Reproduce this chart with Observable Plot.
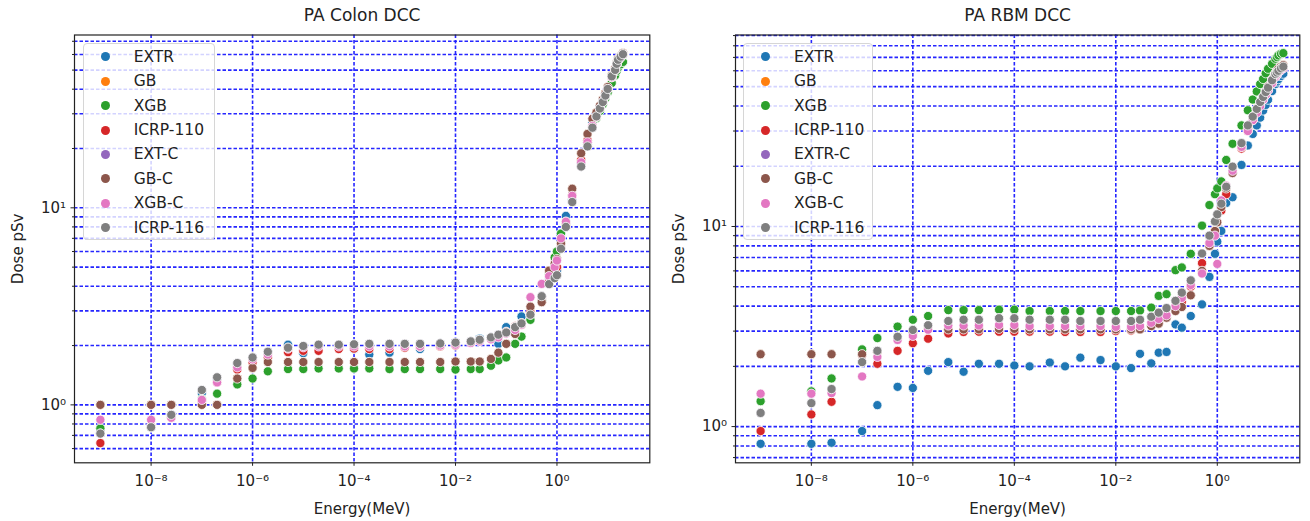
<!DOCTYPE html>
<html>
<head>
<meta charset="utf-8">
<script src="https://cdn.jsdelivr.net/npm/d3@7"></script>
<script src="https://cdn.jsdelivr.net/npm/@observablehq/plot@0.6"></script>
<style>
  body { margin: 0; background: #fff; font-family: "DejaVu Sans", sans-serif; }
  #wrap { position: relative; width: 1310px; height: 521px; overflow: hidden; background: #fff; }
  .panel { position: absolute; top: 0; }
  .legend { position: absolute; box-sizing: border-box; background: rgba(255,255,255,0.8);
            border: 1px solid #d6d6d6; border-radius: 4px; font-size: 15.5px; color: #222; padding-top: 1px; }
  .legend .row { height: 24.4px; display: flex; align-items: center; white-space: nowrap; }
  .legend .mk { width: 9px; height: 9px; border-radius: 50%; margin-left: 17px; margin-right: 24px; flex: none; }
</style>
</head>
<body>
<div id="wrap"></div>
<script>
// ---------------- data ----------------
const energies = [1e-9, 1e-8, 2.5e-8, 1e-7, 2e-7, 5e-7, 1e-6, 2e-6, 5e-6, 1e-5, 2e-5, 5e-5, 1e-4, 2e-4, 5e-4, 1e-3, 2e-3, 5e-3, 1e-2, 2e-2, 3e-2, 5e-2, 7e-2, 0.1, 0.15, 0.2, 0.3, 0.5, 0.7, 0.9, 1, 1.2, 1.5, 2, 3, 4, 5, 6, 7, 8, 9, 10, 12, 14, 15, 16, 18, 20];

const colonNames = ["EXTR", "GB", "XGB", "ICRP-110", "EXT-C", "GB-C", "XGB-C", "ICRP-116"];
const rbmNames   = ["EXTR", "GB", "XGB", "ICRP-110", "EXTR-C", "GB-C", "XGB-C", "ICRP-116"];
const palette = ["#1f77b4", "#ff7f0e", "#2ca02c", "#d62728", "#9467bd", "#8c564b", "#e377c2", "#7f7f7f"];

// PA Colon DCC (pSv)
const colonEXTR = [0.72, 0.77, 0.88, 1.15, 1.35, 1.60, 1.72, 1.85, 2.02, 1.83, 1.95, 1.97, 1.92, 1.80, 1.84, 2.00, 1.92, 2.04, 2.05, 2.08, 2.17, 2.20, 2.04, 2.48, 2.45, 2.81, 2.90, 3.40, 4.30, 4.40, 4.80, 6.50, 9.10, 11.0, 17.0, 21.5, 27.0, 29.5, 32.5, 35.0, 37.5, 40.5, 46.0, 50.5, 53.5, 56.0, 58.5, 60.5];
const colonGB = [1.00, 1.00, 1.00, 1.00, 1.00, 1.36, 1.54, 1.65, 1.65, 1.65, 1.65, 1.65, 1.65, 1.65, 1.65, 1.65, 1.65, 1.65, 1.66, 1.66, 1.66, 1.71, 1.84, 2.04, 2.29, 2.55, 3.15, 3.32, 4.80, 5.20, 5.50, 6.60, 8.30, 12.5, 18.9, 23.7, 28.3, 30.5, 33.0, 35.5, 38.0, 41.0, 47.0, 51.0, 54.5, 57.0, 59.0, 61.0];
const colonXGB = [0.76, 0.77, 0.87, 1.07, 1.14, 1.27, 1.36, 1.48, 1.52, 1.52, 1.53, 1.53, 1.53, 1.53, 1.52, 1.52, 1.52, 1.52, 1.51, 1.52, 1.52, 1.58, 1.68, 1.74, 2.04, 2.22, 2.70, 3.40, 4.60, 5.60, 6.00, 7.40, 8.50, 11.5, 17.4, 21.0, 26.0, 28.5, 31.0, 33.5, 36.0, 38.5, 43.0, 47.0, 49.5, 51.5, 53.5, 55.0];
const colonICRP110 = [0.64, 0.78, 0.86, 1.05, 1.30, 1.51, 1.64, 1.74, 1.85, 1.88, 1.88, 1.92, 1.93, 1.92, 1.92, 1.95, 1.97, 1.98, 2.00, 2.08, 2.12, 2.18, 2.25, 2.35, 2.50, 2.60, 2.95, 3.50, 4.20, 4.70, 5.00, 6.40, 8.20, 11.5, 17.5, 22.0, 26.0, 29.0, 32.0, 34.5, 37.0, 40.0, 46.0, 50.0, 53.5, 56.0, 58.0, 60.0];
const colonEXTC = [0.715, 0.77, 0.89, 1.19, 1.38, 1.63, 1.74, 1.86, 1.95, 1.99, 2.02, 2.02, 2.03, 2.04, 2.04, 2.04, 2.04, 2.05, 2.07, 2.10, 2.14, 2.20, 2.27, 2.33, 2.48, 2.59, 2.87, 3.56, 4.10, 4.40, 4.55, 6.20, 8.00, 10.7, 16.2, 20.5, 25.5, 29.1, 31.9, 34.4, 37.1, 40.1, 46.5, 50.1, 53.8, 56.4, 58.5, 60.2];
const colonGBC = [1.00, 1.00, 1.00, 1.00, 1.00, 1.36, 1.54, 1.65, 1.65, 1.65, 1.65, 1.65, 1.65, 1.65, 1.65, 1.65, 1.65, 1.65, 1.66, 1.66, 1.66, 1.71, 1.84, 2.04, 2.29, 2.55, 3.15, 3.32, 4.80, 5.20, 5.50, 6.60, 8.30, 12.5, 18.9, 23.7, 28.3, 30.5, 33.0, 35.5, 38.0, 41.0, 47.0, 51.0, 54.5, 57.0, 59.0, 61.0];
const colonXGBC = [0.84, 0.84, 0.86, 1.06, 1.30, 1.55, 1.70, 1.80, 1.93, 1.96, 1.98, 1.98, 1.98, 1.98, 1.98, 1.98, 1.98, 2.00, 2.02, 2.06, 2.10, 2.15, 2.20, 2.30, 2.40, 2.55, 3.52, 4.11, 4.50, 5.00, 5.40, 7.00, 8.50, 11.5, 17.0, 21.5, 26.0, 29.0, 32.0, 34.5, 37.0, 40.0, 46.0, 50.0, 53.5, 56.0, 58.0, 60.0];
const colonICRP116 = [0.715, 0.77, 0.89, 1.19, 1.38, 1.63, 1.74, 1.86, 1.95, 1.99, 2.02, 2.02, 2.03, 2.04, 2.04, 2.04, 2.04, 2.05, 2.07, 2.10, 2.14, 2.20, 2.27, 2.33, 2.48, 2.59, 2.87, 3.56, 4.10, 4.40, 4.55, 6.20, 8.00, 10.7, 16.2, 20.5, 25.5, 29.1, 31.9, 34.4, 37.1, 40.1, 46.5, 50.1, 53.8, 56.4, 58.5, 60.2];

// PA RBM DCC (pSv)
const rbmEXTR = [0.82, 0.82, 0.83, 0.95, 1.28, 1.58, 1.56, 1.90, 2.10, 1.88, 2.06, 2.06, 2.02, 2.00, 2.09, 2.00, 2.21, 2.15, 2.00, 1.96, 2.31, 2.07, 2.34, 2.36, 3.24, 3.12, 3.57, 4.08, 5.60, 7.30, 8.40, 9.50, 13.1, 14.0, 20.3, 25.4, 29.0, 32.0, 35.0, 38.0, 40.5, 43.0, 47.5, 51.5, 53.0, 54.5, 56.5, 58.0];
const rbmGB = [2.30, 2.30, 2.30, 2.30, 2.35, 2.75, 2.95, 3.08, 3.06, 3.06, 3.06, 3.08, 3.08, 3.06, 3.06, 3.06, 3.06, 3.06, 3.06, 3.06, 3.06, 3.18, 3.27, 3.50, 3.78, 3.96, 4.53, 6.00, 8.00, 9.50, 10.5, 12.5, 15.5, 18.5, 25.0, 31.0, 35.0, 38.5, 41.5, 44.5, 47.0, 50.0, 54.5, 58.5, 60.0, 61.5, 63.0, 64.0];
const rbmXGB = [1.34, 1.50, 1.74, 2.43, 2.77, 3.16, 3.42, 3.57, 3.82, 3.82, 3.82, 3.84, 3.84, 3.78, 3.78, 3.78, 3.78, 3.78, 3.78, 3.78, 3.80, 3.93, 4.50, 4.59, 6.05, 6.24, 7.30, 10.1, 12.8, 14.5, 15.5, 16.8, 21.5, 25.9, 32.0, 38.1, 43.1, 47.3, 51.5, 54.6, 58.3, 61.4, 65.0, 68.9, 70.2, 71.6, 73.0, 73.5];
const rbmICRP110 = [0.95, 1.15, 1.33, 2.28, 2.06, 2.39, 2.61, 2.75, 2.92, 2.97, 2.98, 2.98, 2.98, 2.98, 2.98, 2.97, 2.97, 2.97, 3.00, 3.02, 3.10, 3.20, 3.30, 3.50, 3.85, 4.20, 5.00, 6.56, 8.30, 9.50, 10.5, 12.0, 14.5, 18.5, 24.5, 30.0, 34.0, 37.5, 40.5, 43.0, 45.5, 48.0, 52.0, 56.0, 57.5, 59.0, 61.0, 62.0];
const rbmEXTRC = [1.17, 1.31, 1.54, 2.10, 2.39, 2.81, 3.04, 3.21, 3.37, 3.42, 3.42, 3.48, 3.48, 3.42, 3.42, 3.42, 3.37, 3.37, 3.37, 3.37, 3.42, 3.54, 3.71, 3.91, 4.25, 4.67, 5.38, 7.33, 9.00, 10.6, 11.5, 13.0, 15.8, 19.9, 26.1, 32.0, 35.4, 38.7, 41.9, 44.4, 47.0, 49.4, 53.8, 57.8, 58.8, 60.0, 61.7, 62.9];
const rbmGBC = [2.30, 2.30, 2.30, 2.30, 2.35, 2.75, 2.95, 3.08, 3.06, 3.06, 3.06, 3.08, 3.08, 3.06, 3.06, 3.06, 3.06, 3.06, 3.06, 3.06, 3.06, 3.18, 3.27, 3.50, 3.78, 3.96, 4.53, 6.00, 8.00, 9.50, 10.5, 12.5, 15.5, 18.5, 25.0, 31.0, 35.0, 38.5, 41.5, 44.5, 47.0, 50.0, 54.5, 58.5, 60.0, 61.5, 63.0, 64.0];
const rbmXGBC = [1.46, 1.46, 1.47, 1.78, 2.23, 2.71, 2.84, 3.05, 3.20, 3.20, 3.20, 3.22, 3.22, 3.18, 3.18, 3.18, 3.18, 3.18, 3.15, 3.15, 3.18, 3.30, 3.45, 3.60, 4.00, 4.40, 5.10, 5.82, 8.26, 9.00, 6.50, 13.5, 16.0, 19.0, 25.0, 30.0, 34.0, 37.0, 40.0, 43.0, 45.5, 48.0, 52.0, 56.0, 57.5, 59.0, 60.5, 62.0];
const rbmICRP116 = [1.17, 1.31, 1.54, 2.10, 2.39, 2.81, 3.04, 3.21, 3.37, 3.42, 3.42, 3.48, 3.48, 3.42, 3.42, 3.42, 3.37, 3.37, 3.37, 3.37, 3.42, 3.54, 3.71, 3.91, 4.25, 4.67, 5.38, 7.33, 9.00, 10.6, 11.5, 13.0, 15.8, 19.9, 26.1, 32.0, 35.4, 38.7, 41.9, 44.4, 47.0, 49.4, 53.8, 57.8, 58.8, 60.0, 61.7, 62.9];

// ticks
const xTicks = [1e-8, 1e-6, 1e-4, 1e-2, 1];
const yMajorTicks = [1, 10];
const colonYMinor = [0.6, 0.7, 0.8, 0.9, 2, 3, 4, 5, 6, 7, 8, 9, 20, 30, 40, 50, 60, 70];
const rbmYMinor = [0.7, 0.8, 0.9, 2, 3, 4, 5, 6, 7, 8, 9, 20, 30, 40, 50, 60, 70, 80, 90];

// ---------------- drawing ----------------
const SUP = {"-": "\u207B", "0": "\u2070", "1": "\u00B9", "2": "\u00B2", "3": "\u00B3", "4": "\u2074",
             "5": "\u2075", "6": "\u2076", "7": "\u2077", "8": "\u2078", "9": "\u2079"};
const powFmt = d => "10" + String(Math.round(Math.log10(d))).split("").map(c => SUP[c]).join("");

function makePanel({title, names, series, xDomain, yDomain, yMinor, marginLeft, marginRight}) {
  const data = [];
  names.forEach((n, i) => energies.forEach((e, j) => data.push({series: n, E: e, D: series[i][j]})));
  const grid = {stroke: "#1a1aff", strokeOpacity: 0.95, strokeWidth: 1.6, strokeDasharray: "3.5,2"};
  return Plot.plot({
    width: 655, height: 521,
    marginLeft, marginRight, marginTop: 34.5, marginBottom: 58.7,
    style: {fontFamily: "DejaVu Sans, sans-serif", fontSize: "15px", color: "#222", background: "white"},
    x: {type: "log", domain: xDomain},
    y: {type: "log", domain: yDomain},
    color: {domain: names, range: palette},
    marks: [
      Plot.gridX(xTicks, grid),
      Plot.gridY(yMajorTicks.concat(yMinor), grid),
      Plot.axisX(xTicks, {tickFormat: powFmt, tickSize: 3.5, tickPadding: 9, label: null, fontSize: 15}),
      Plot.axisY(yMajorTicks, {tickFormat: powFmt, tickSize: 3.5, tickPadding: 5, label: null, fontSize: 15}),
      Plot.axisY(yMinor, {tickFormat: () => "", tickSize: 2, label: null}),
      Plot.dot(data, {x: "E", y: "D", fill: "series", stroke: "white", strokeWidth: 0.8, r: 4.6}),
      Plot.frame({stroke: "#222", strokeWidth: 1.2}),
      Plot.text([title], {frameAnchor: "top", dy: -19.5, lineAnchor: "middle", fontSize: 17}),
      Plot.text(["Energy(MeV)"], {frameAnchor: "bottom", dy: 46, lineAnchor: "middle", fontSize: 15}),
      Plot.text(["Dose pSv"], {frameAnchor: "left", dx: -56, rotate: -90, lineAnchor: "middle", textAnchor: "middle", fontSize: 15})
    ]
  });
}

function makeLegend(names, left, top, width) {
  const lg = document.createElement("div");
  lg.className = "legend";
  lg.style.left = left + "px"; lg.style.top = top + "px";
  lg.style.width = width + "px"; lg.style.height = "197px";
  names.forEach((n, i) => {
    const row = document.createElement("div"); row.className = "row";
    const mk = document.createElement("span"); mk.className = "mk"; mk.style.background = palette[i];
    const tx = document.createElement("span"); tx.textContent = n;
    row.appendChild(mk); row.appendChild(tx); lg.appendChild(row);
  });
  return lg;
}

const wrap = document.getElementById("wrap");

const left = makePanel({
  title: "PA Colon DCC", names: colonNames,
  series: [colonEXTR, colonGB, colonXGB, colonICRP110, colonEXTC, colonGBC, colonXGBC, colonICRP116],
  xDomain: [Math.pow(10, -9.51), Math.pow(10, 1.83)],
  yDomain: [Math.pow(10, -0.294), Math.pow(10, 1.877)],
  yMinor: colonYMinor, marginLeft: 74, marginRight: 5.7
});
left.classList.add("panel"); left.style.left = "0px";
wrap.appendChild(left);

const right = makePanel({
  title: "PA RBM DCC", names: rbmNames,
  series: [rbmEXTR, rbmGB, rbmXGB, rbmICRP110, rbmEXTRC, rbmGBC, rbmXGBC, rbmICRP116],
  xDomain: [Math.pow(10, -9.495), Math.pow(10, 1.626)],
  yDomain: [Math.pow(10, -0.181), Math.pow(10, 1.957)],
  yMinor: rbmYMinor, marginLeft: 80, marginRight: 10.7
});
right.classList.add("panel"); right.style.left = "655px";
wrap.appendChild(right);

wrap.appendChild(makeLegend(colonNames, 82.7, 42.7, 132));
wrap.appendChild(makeLegend(rbmNames, 743, 42.7, 130));
</script>
</body>
</html>
